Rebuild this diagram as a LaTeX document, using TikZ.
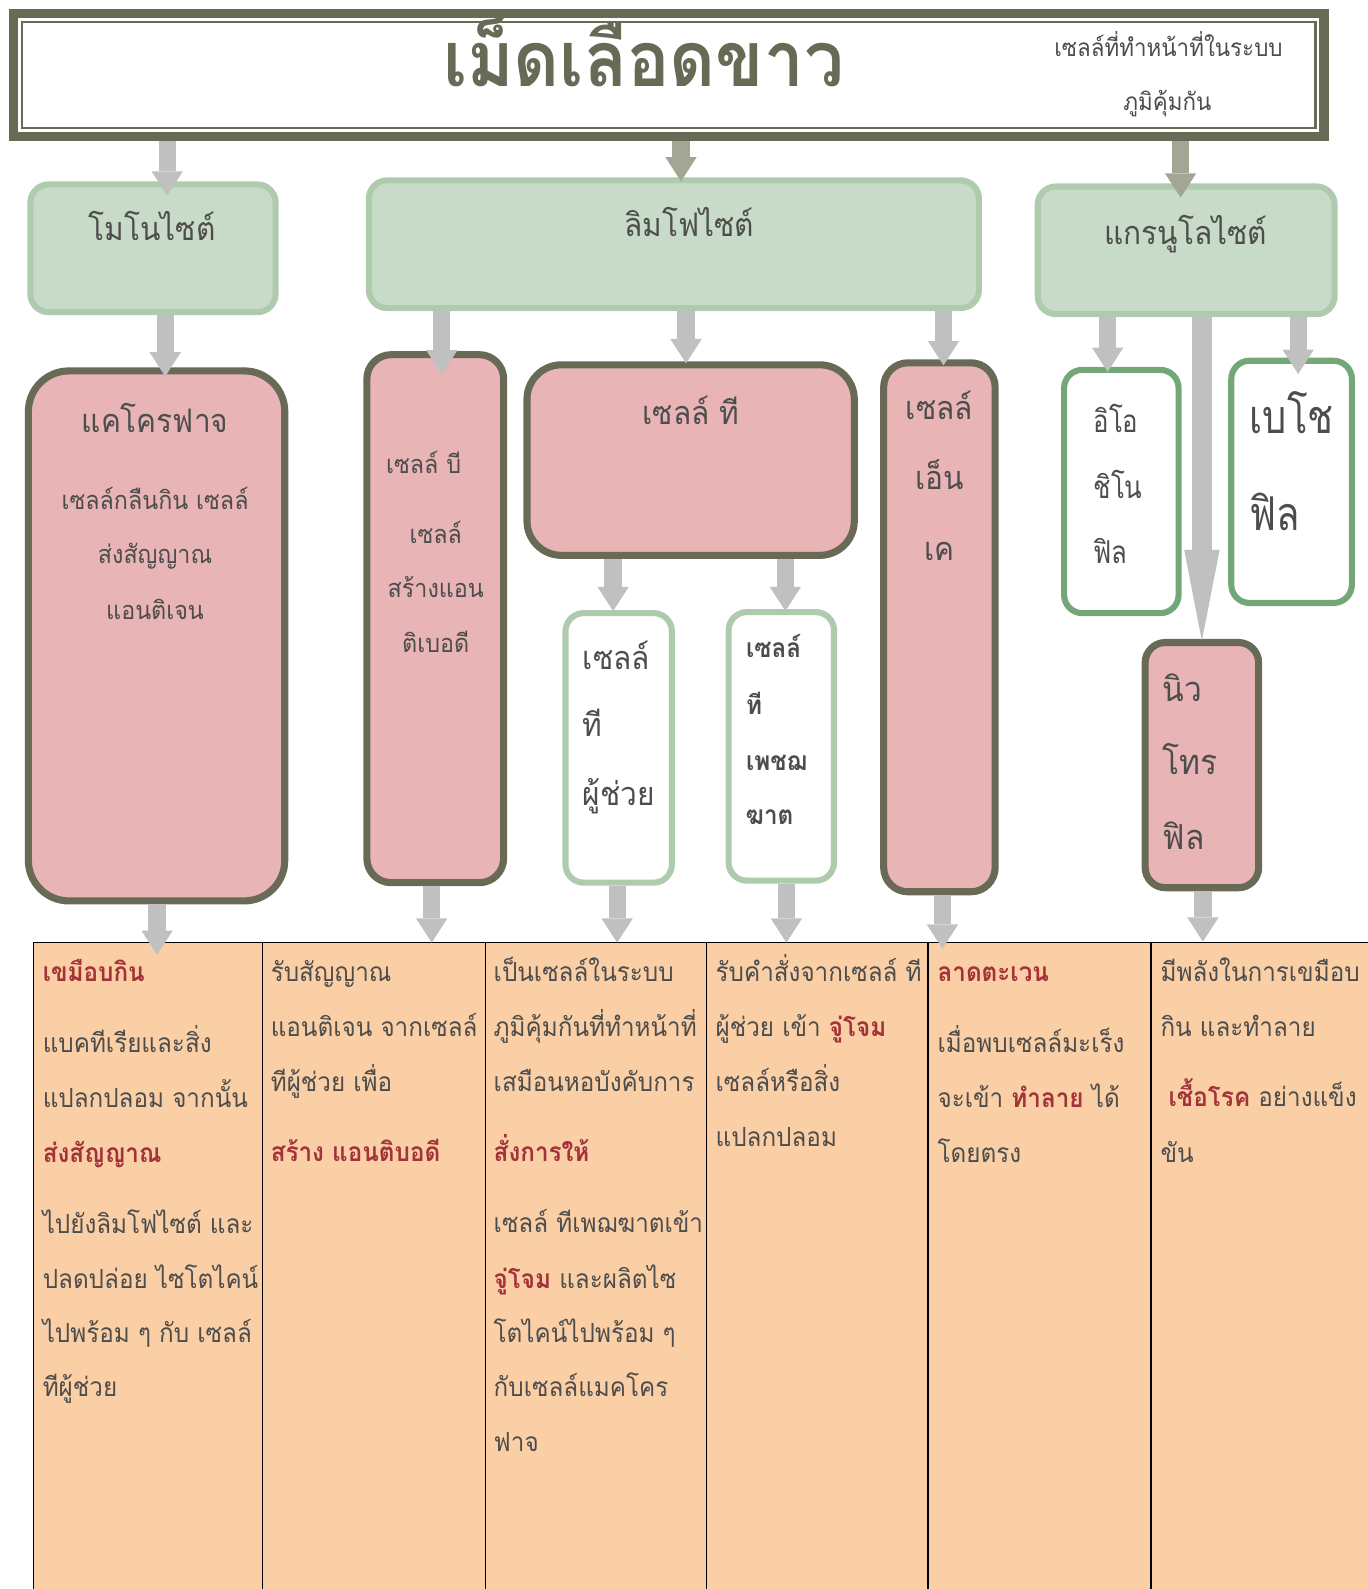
\documentclass[tikz,border=0pt]{standalone}
\usepackage{fontspec}
\setmainfont[Script=Thai,FakeStretch=0.92]{Loma}
\newfontfamily\narrowthai[Script=Thai,FakeStretch=0.82]{Loma}
\usetikzlibrary{arrows.meta,fit}

\definecolor{olive}{HTML}{686A55}
\definecolor{gfill}{HTML}{C8DBC8}
\definecolor{gline}{HTML}{AECBAE}
\definecolor{dgline}{HTML}{74A778}
\definecolor{pinkfill}{HTML}{E8B4B5}
\definecolor{peach}{HTML}{FBCFA5}
\definecolor{lgray}{HTML}{C0C0C0}
\definecolor{dgray}{HTML}{A3A595}
\definecolor{txt}{HTML}{4D4D4D}
\definecolor{hired}{HTML}{A3333A}

\newcommand\hl[1]{{\bfseries\color{hired}#1}}
\newcommand\fs[1]{\fontsize{#1}{#1}\selectfont}

\begin{document}
\begin{tikzpicture}[x=1pt,y=-1pt,
  greenbox/.style={fill=gfill,draw=gline,line width=6pt,rounded corners=18pt,inner sep=0pt},
  pinkbox/.style={fill=pinkfill,draw=olive,line width=7pt,rounded corners=#1,inner sep=0pt},
  pinkbox/.default=24pt,
  palebox/.style={fill=white,draw=gline,line width=6pt,rounded corners=18pt,inner sep=0pt},
  leafbox/.style={fill=white,draw=dgline,line width=6pt,rounded corners=18pt,inner sep=0pt},
  column/.style={fill=peach,draw=black,line width=1.6pt,inner sep=0pt},
  conn/.style={draw=lgray,line width=17pt,-{Triangle[width=31pt,length=24pt,line width=0pt]}},
  dconn/.style={conn,draw=dgray},
  lbl/.style={text=txt,inner sep=0pt,font=\fs{#1}},
  lbl/.default=32,
  cell/.style={text=txt,inner sep=0pt,anchor=base west,font=\fs{26}},
]
\useasboundingbox (0,0) rectangle (1349,1568);

% ---- table of functions ----
\node[column,fit={(33,930) (259,1600)}] (c1) {};
\node[column,fit={(259,930) (479,1600)}] (c2) {};
\node[column,fit={(479,930) (697,1600)}] (c3) {};
\node[column,fit={(697,930) (916,1600)}] (c4) {};
\node[column,fit={(916,930) (1136,1600)}] (c5) {};
\node[column,fit={(1136,930) (1400,1600)}] (c6) {};

% ---- header ----
\node[fill=olive,inner sep=0pt,fit={(9,9) (1311,139)}] (title) {};
\node[fill=white,inner sep=0pt,fit={(18,18) (1302,130)}] (titlein) {};
\draw[olive,line width=2.5pt] (titlein.north west) ++(4,4) rectangle ([xshift=-4pt,yshift=4pt]titlein.south east);
\node[text=olive,inner sep=0pt,anchor=base,font=\fs{76}\bfseries] (head) at (635,85) {เม็ดเลือดขาว};
\node[text=txt,inner sep=0pt,anchor=base,font=\fs{24}] (sub1) at (1153,56) {เซลล์ที่ทำหน้าที่ในระบบ};
\node[text=txt,inner sep=0pt,anchor=base,font=\fs{24}] (sub2) at (1152,109) {ภูมิคุ้มกัน};

% ---- cell types ----
\node[greenbox,fit={(30,182) (272,308)}] (mono) {};
\node[greenbox,fit={(364,178) (966,304)}] (lymph) {};
\node[greenbox,fit={(1024,184) (1317,310)}] (gran) {};

\node[pinkbox=40pt,fit={(28,366) (281,889)}] (macro) {};
\node[pinkbox,fit={(362,350) (497,871)}] (bcell) {};
\node[pinkbox=34pt,fit={(520,360) (843,548)}] (tcell) {};
\node[pinkbox,fit={(872,358) (982,880)}] (nk) {};
\node[palebox,fit={(558,605) (663,871)}] (helper) {};
\node[palebox,fit={(719,604) (823,869)}] (killer) {};
\node[leafbox,fit={(1050,365) (1163,605)}] (eos) {};
\node[leafbox,fit={(1215,356) (1334,595)}] (baso) {};
\node[pinkbox=20pt,fit={(1130,634) (1242,876)}] (neut) {};

% ---- connectors ----
\draw[conn]  ([xshift=-495pt]title.south) -- ([xshift=14pt,yshift=-14pt]mono.north);
\draw[dconn] ([xshift=12pt]title.south)   -- ([xshift=7pt,yshift=-4pt]lymph.north);
\draw[dconn] ([xshift=505pt]title.south)  -- ([xshift=-5.5pt,yshift=-14pt]gran.north);
\draw[conn]  ([xshift=12pt]mono.south)    -- ([xshift=8.5pt,yshift=-9pt]macro.north);
\draw[conn]  ([xshift=-229pt]lymph.south) -- ([xshift=6.5pt,yshift=-23pt]bcell.north);
\draw[conn]  ([xshift=12pt]lymph.south)   -- ([xshift=-4.5pt,yshift=-2pt]tcell.north);
\draw[conn]  ([xshift=266pt]lymph.south)  -- ([xshift=4pt,yshift=-6pt]nk.north);
\draw[conn]  ([xshift=-76.5pt]tcell.south) -- ([xshift=-5.5pt,yshift=-1pt]helper.north);
\draw[conn]  ([xshift=93.5pt]tcell.south) -- ([xshift=4pt,yshift=-2pt]killer.north);
\draw[conn]  ([xshift=-77.5pt]gran.south) -- ([xshift=-13.5pt,yshift=-5pt]eos.north);
\draw[conn,line width=20pt,-{Triangle[width=35pt,length=90pt,line width=0pt]}]
             ([xshift=15.5pt]gran.south)  -- ([yshift=-2pt]neut.north);
\draw[conn]  ([xshift=110.5pt]gran.south) -- ([xshift=6.5pt,yshift=-16pt]baso.north);
\draw[conn]  ([xshift=0.5pt]macro.south)  -- ([xshift=9pt,yshift=-13pt]c1.north);
\draw[conn]  ([xshift=-3.5pt]bcell.south) -- ([xshift=57pt,yshift=-1pt]c2.north);
\draw[conn]  ([xshift=-1.5pt]helper.south) -- ([xshift=21pt,yshift=-1pt]c3.north);
\draw[conn]  ([xshift=5pt]killer.south)   -- ([xshift=-30.5pt,yshift=-1pt]c4.north);
\draw[conn]  ([xshift=3pt]nk.south)       -- ([xshift=-96pt,yshift=-7pt]c5.north);
\draw[conn]  ([xshift=1pt]neut.south)     -- ([xshift=-81pt]c6.north);

% ---- box labels ----
\node[lbl,anchor=base] (monot) at (150,237) {โมโนไซต์};
\node[lbl,anchor=base] (lympht) at (680,233) {ลิมโฟไซต์};
\node[lbl,anchor=base] (grant) at (1170,241) {แกรนูโลไซต์};

\node[lbl,anchor=base] (macrot) at (153,427) {แคโครฟาจ};
\node[lbl=25,anchor=base] (macro1) at (153,503) {เซลล์กลืนกิน เซลล์};
\node[lbl=25,anchor=base] (macro2) at (153,556) {ส่งสัญญาณ};
\node[lbl=25,anchor=base] (macro3) at (153,611) {แอนติเจน};

\node[lbl=25,anchor=base] (bcell1) at (418,467) {เซลล์ บี};
\node[lbl=25,anchor=base] (bcell2) at (430,536) {เซลล์};
\node[lbl=25,anchor=base] (bcell3) at (430,590) {สร้างแอน};
\node[lbl=25,anchor=base] (bcell4) at (430,644) {ติเบอดี};

\node[lbl,anchor=base] (tcellt) at (682,419) {เซลล์ ที};

\node[lbl,anchor=base] (nk1) at (927,414) {เซลล์};
\node[lbl,anchor=base] (nk2) at (927,483) {เอ็น};
\node[lbl,anchor=base] (nk3) at (927,553) {เค};

\node[lbl,anchor=base west] (help1) at (575,661) {เซลล์};
\node[lbl,anchor=base west] (help2) at (575,727) {ที};
\node[lbl,anchor=base west] (help3) at (575,795) {ผู้ช่วย};

\node[lbl=26,anchor=base west,font=\fs{26}\bfseries] (kill1) at (736,649) {เซลล์};
\node[lbl=26,anchor=base west,font=\fs{26}\bfseries] (kill2) at (736,705) {ที};
\node[lbl=26,anchor=base west,font=\fs{26}\bfseries] (kill3) at (736,760) {เพชฌ};
\node[lbl=26,anchor=base west,font=\fs{26}\bfseries] (kill4) at (736,814) {ฆาต};

\node[lbl=31,anchor=base west,font=\fs{31}\narrowthai] (eos1) at (1079,427) {อิโอ};
\node[lbl=31,anchor=base west,font=\fs{31}\narrowthai] (eos2) at (1079,492) {ชิโน};
\node[lbl=31,anchor=base west,font=\fs{31}\narrowthai] (eos3) at (1079,556) {ฟิล};

\node[lbl=46,anchor=base west,font=\fs{46}\narrowthai] (baso1) at (1233,428) {เบโช};
\node[lbl=46,anchor=base west,font=\fs{46}\narrowthai] (baso2) at (1233,523) {ฟิล};

\node[lbl=34,anchor=base west] (neut1) at (1147,692) {นิว};
\node[lbl=34,anchor=base west] (neut2) at (1147,764) {โทร};
\node[lbl=34,anchor=base west] (neut3) at (1147,838) {ฟิล};

% ---- table text ----
\foreach \y/\t in {960/\hl{เขมือบกิน}, 1030/แบคทีเรียและสิ่ง, 1084/แปลกปลอม จากนั้น,
                   1138/\hl{ส่งสัญญาณ}, 1208/ไปยังลิมโฟไซต์ และ, 1262/ปลดปล่อย ไซโตไคน์,
                   1316/ไปพร้อม ๆ กับ เซลล์, 1369/ทีผู้ช่วย}
  \node[cell] (ta-\y) at (42,\y+9) {\t};
\foreach \y/\t in {960/รับสัญญาณ, 1014/แอนติเจน จากเซลล์, 1068/ทีผู้ช่วย เพื่อ,
                   1137/\hl{สร้าง แอนติบอดี}}
  \node[cell] (tb-\y) at (267,\y+9) {\t};
\foreach \y/\t in {960/เป็นเซลล์ในระบบ, 1014/ภูมิคุ้มกันที่ทำหน้าที่, 1068/เสมือนหอบังคับการ,
                   1137/\hl{สั่งการให้}, 1207/เซลล์ ทีเพฌฆาตเข้า, 1262/\hl{จู่โจม} และผลิตไซ,
                   1316/โตไคน์ไปพร้อม ๆ, 1369/กับเซลล์แมคโคร, 1423/ฟาจ}
  \node[cell] (tc-\y) at (487,\y+9) {\t};
\foreach \y/\t in {960/รับคำสั่งจากเซลล์ ที, 1014/ผู้ช่วย เข้า \hl{จู่โจม}, 1068/เซลล์หรือสิ่ง,
                   1122/แปลกปลอม}
  \node[cell] (td-\y) at (706,\y+9) {\t};
\foreach \y/\t in {960/\hl{ลาดตะเวน}, 1030/เมื่อพบเซลล์มะเร็ง, 1084/จะเข้า \hl{ทำลาย} ได้,
                   1138/โดยตรง}
  \node[cell] (te-\y) at (925,\y+9) {\t};
\foreach \y/\t in {960/มีพลังในการเขมือบ, 1014/กิน และทำลาย, 1083/\hl{เชื้อโรค} อย่างแข็ง,
                   1138/ขัน}
  \node[cell] (tf-\y) at ({1145+(\y==1083)*8},\y+9) {\t};
\end{tikzpicture}
\end{document}
